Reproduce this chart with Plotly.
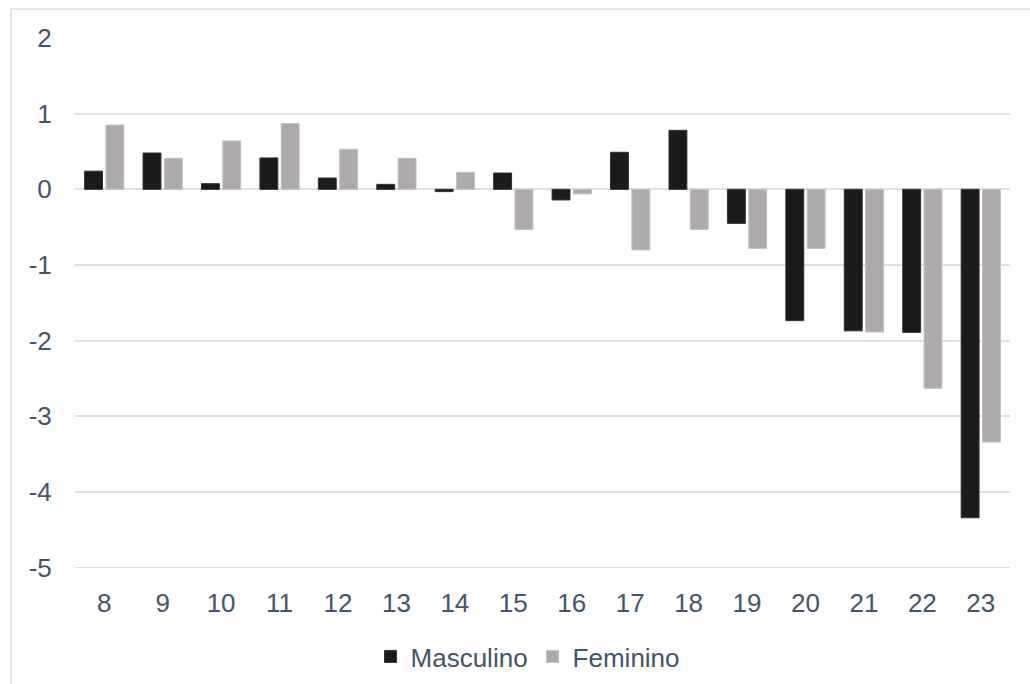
import plotly.graph_objects as go

categories = ["8", "9", "10", "11", "12", "13", "14", "15", "16", "17", "18", "19", "20", "21", "22", "23"]
masculino = [0.24, 0.48, 0.075, 0.415, 0.15, 0.066, -0.03, 0.216, -0.14, 0.49, 0.78, -0.45, -1.735, -1.87, -1.89, -4.34]
feminino = [0.85, 0.41, 0.64, 0.87, 0.53, 0.41, 0.225, -0.53, -0.06, -0.80, -0.53, -0.78, -0.78, -1.886, -2.63, -3.34]
y_ticks = [-5, -4, -3, -2, -1, 0, 1, 2]

font_family = "Liberation Sans, Arial, sans-serif"
text_color = "#44546A"
grid_color = "#dde1e7"

fig = go.Figure()
fig.add_trace(go.Bar(x=categories, y=masculino, name="Masculino",
                     marker=dict(color="#1a1a1a", line=dict(color="#333333", width=1))))
fig.add_trace(go.Bar(x=categories, y=feminino, name="Feminino",
                     marker=dict(color="#aeaaaa", line=dict(color="#c4c1c1", width=1))))

fig.update_layout(
    width=1030, height=684,
    margin=dict(l=75, r=20, t=38, b=116, autoexpand=False),
    plot_bgcolor="white", paper_bgcolor="white",
    barmode="group", bargap=0.27, bargroupgap=0.16,
    font=dict(family=font_family, size=26, color=text_color),
    showlegend=True,
    legend=dict(orientation="h", x=0.484, xanchor="center", y=-0.167, yanchor="middle",
                font=dict(size=26, color=text_color), itemwidth=30, traceorder="normal"),
    xaxis=dict(type="category", showgrid=False, zeroline=False, showline=False,
               ticks="outside", ticklen=12, tickcolor="rgba(0,0,0,0)", automargin=False,
               tickfont=dict(size=26, color=text_color)),
    yaxis=dict(range=[-5.004, 2.0], tickvals=y_ticks, ticktext=[str(v) for v in y_ticks],
               showgrid=True, gridcolor=grid_color, gridwidth=1.5, automargin=False,
               zeroline=True, zerolinecolor=grid_color, zerolinewidth=1.5, showline=False,
               ticks="outside", ticklen=17, tickcolor="rgba(0,0,0,0)",
               tickfont=dict(size=26, color=text_color)),
    shapes=[
        dict(type="rect", xref="paper", yref="paper",
             x0=-64/935, x1=1030/935, y0=-200/530, y1=(568-9)/530,
             line=dict(color="#d9dde3", width=1.5), fillcolor="rgba(0,0,0,0)", layer="below"),
        dict(type="line", xref="paper", yref="y", x0=0, x1=1, y0=min(y_ticks), y1=min(y_ticks),
             line=dict(color=grid_color, width=1.5), layer="below"),
    ],
)

fig.write_html("out.html")
